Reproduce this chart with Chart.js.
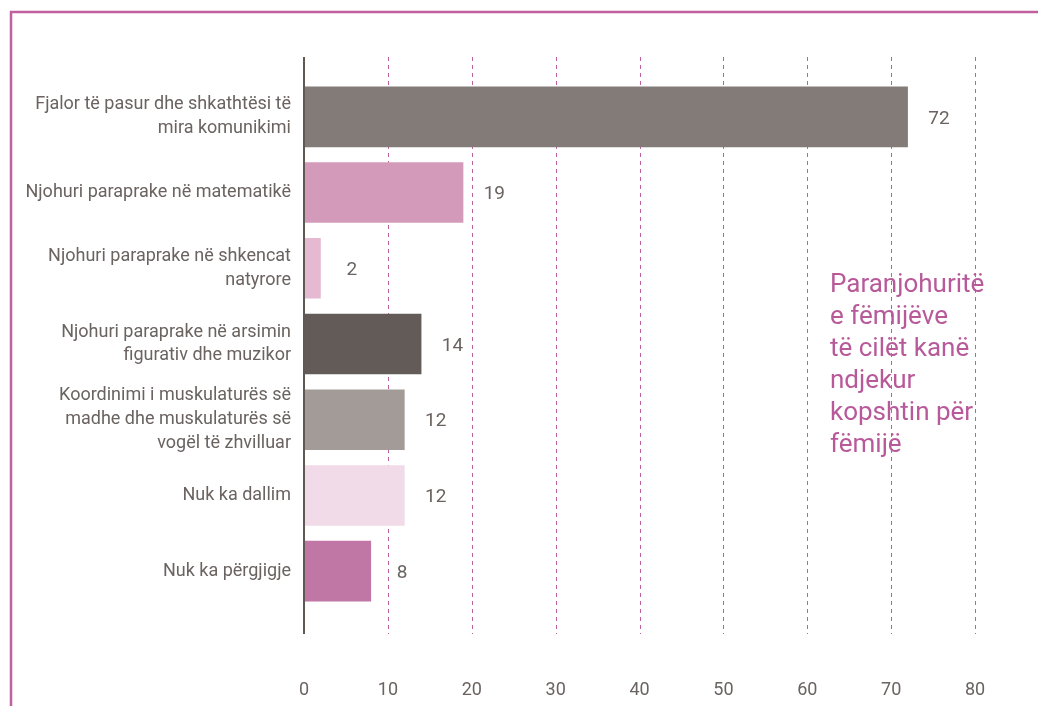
<!DOCTYPE html>
<html>
<head>
<meta charset="utf-8">
<script src="https://cdn.jsdelivr.net/npm/chart.js@4.4.1/dist/chart.umd.min.js"></script>
<style>
  html, body { margin: 0; padding: 0; background: #fff; }
  #wrap { width: 1038px; height: 706px; position: relative; }
</style>
</head>
<body>
<div id="wrap"><canvas id="chart" width="1038" height="706"></canvas></div>
<script>
// DATA
const categories = [
    ['Fjalor të pasur dhe shkathtësi të', 'mira komunikimi'],
    'Njohuri paraprake në matematikë',
    ['Njohuri paraprake në shkencat', 'natyrore'],
    ['Njohuri paraprake në arsimin', 'figurativ dhe muzikor'],
    ['Koordinimi i muskulaturës së', 'madhe dhe muskulaturës së', 'vogël të zhvilluar'],
    'Nuk ka dallim',
    'Nuk ka përgjigje'
];
const values = [72, 19, 2, 14, 12, 12, 8];
const barColors = ['#827b77', '#d39aba', '#e6b9d3', '#625b57', '#a29b98', '#f2dbe8', '#c177a6'];
const xTicks = [0, 10, 20, 30, 40, 50, 60, 70, 80];
const noteLines = ['Paranjohuritë', 'e fëmijëve', 'të cilët kanë', 'ndjekur', 'kopshtin për', 'fëmijë'];

const FONT = 'Roboto, "Open Sans", sans-serif';
const PINK = '#c0609f';
const TEXT = '#6a6360';

// frame, dashed grid, axis line, value labels and side note
const decorPlugin = {
    id: 'decor',
    beforeDatasetsDraw(chart) {
        const {ctx, chartArea, scales} = chart;
        const ext = 22;
        ctx.save();
        // frame
        ctx.strokeStyle = PINK;
        ctx.lineWidth = 2.5;
        ctx.beginPath();
        ctx.moveTo(11, 706);
        ctx.lineTo(11, 12);
        ctx.lineTo(1038, 12);
        ctx.stroke();
        // dashed grid
        ctx.strokeStyle = PINK;
        ctx.lineWidth = 1;
        ctx.setLineDash([4, 4]);
        xTicks.forEach(function (t) {
            if (t === 0) return;
            const x = Math.round(scales.x.getPixelForValue(t)) + 0.5;
            ctx.beginPath();
            ctx.moveTo(x, chartArea.top - ext);
            ctx.lineTo(x, chartArea.bottom + ext + 3);
            ctx.stroke();
        });
        ctx.restore();
    },
    afterDatasetsDraw(chart) {
        const {ctx, chartArea, scales} = chart;
        const ext = 22;
        ctx.save();
        // y axis line
        ctx.strokeStyle = '#5f5955';
        ctx.lineWidth = 2;
        const x0 = scales.x.getPixelForValue(0);
        ctx.beginPath();
        ctx.moveTo(x0, chartArea.top - ext);
        ctx.lineTo(x0, chartArea.bottom + ext + 3);
        ctx.stroke();
        // values
        ctx.fillStyle = TEXT;
        ctx.font = '19px ' + FONT;
        ctx.textAlign = 'center';
        ctx.textBaseline = 'middle';
        const meta = chart.getDatasetMeta(0);
        meta.data.forEach(function (bar, i) {
            ctx.fillText(String(values[i]), bar.x + 31, bar.y + 2);
        });
        // side note
        ctx.fillStyle = '#b85a9a';
        ctx.font = '26px ' + FONT;
        ctx.textAlign = 'left';
        ctx.textBaseline = 'alphabetic';
        noteLines.forEach(function (line, i) {
            ctx.fillText(line, 830, 292 + i * 32);
        });
        ctx.restore();
    }
};

const myChart = new Chart(document.getElementById('chart').getContext('2d'), {
    type: 'bar',
    data: {
        labels: categories,
        datasets: [
            {
                data: values,
                backgroundColor: barColors,
                borderWidth: 0,
                barPercentage: 0.8,
                categoryPercentage: 1,
            },
        ],
    },
    options: {
        indexAxis: 'y',
        responsive: false,
        animation: false,
        layout: {padding: {top: 79, right: 63, bottom: 0, left: 0}},
        plugins: {legend: {display: false}, tooltip: {enabled: false}},
        scales: {
            x: {
                min: 0,
                max: 80,
                afterBuildTicks: function (scale) {
                    scale.ticks = xTicks.map(v => ({value: v}));
                },
                afterFit: function (scale) {
                    scale.height = 97;
                    scale.paddingLeft = 0;
                    scale.paddingRight = 0;
                },
                grid: {display: false},
                border: {display: false},
                ticks: {
                    color: TEXT,
                    font: {family: FONT, size: 18},
                    padding: 63,
                    maxRotation: 0,
                },
            },
            y: {
                afterFit: function (scale) {
                    scale.width = 304;
                    scale.paddingTop = 0;
                    scale.paddingBottom = 0;
                },
                grid: {display: false},
                border: {display: false},
                ticks: {
                    color: TEXT,
                    font: {family: FONT, size: 18, lineHeight: 1.33},
                    padding: 5,
                    autoSkip: false,
                },
            },
        },
    },
    plugins: [decorPlugin],
});
</script>
</body>
</html>
